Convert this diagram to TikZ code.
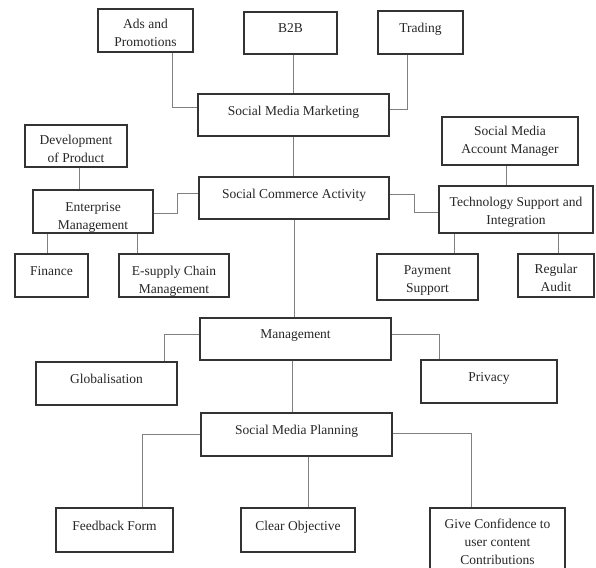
\documentclass[tikz,border=0pt]{standalone}
\usepackage{fontspec}
\setmainfont{Liberation Serif}

\begin{document}
\begin{tikzpicture}[x=1pt, y=-1pt,
  box/.style={draw=black!80, line width=1.1pt, inner sep=0pt, align=center,
    font=\fontsize{13.5}{18}\selectfont, text=black!85},
  oneline/.style={text depth=9pt},
  twoline/.style={text height=33pt},
  lowline/.style={text height=38pt},
  link/.style={draw=black!50, line width=0.9pt}]
  \useasboundingbox (0,0) rectangle (596,567);

  % 顶层：社交媒体营销
  \node[box, twoline, minimum width=95, minimum height=43] (ads) at (145.5,30.5) {Ads and\\Promotions};
  \node[box, oneline, minimum width=93, minimum height=42] (btob) at (290.5,33) {B2B};
  \node[box, oneline, minimum width=85, minimum height=43] (trade) at (420.5,32.5) {Trading};
  \node[box, oneline, minimum width=191, minimum height=42] (smm) at (293.5,115) {Social Media Marketing};

  % 中层：社交商务活动
  \node[box, twoline, minimum width=102, minimum height=42] (dev) at (76,146) {Development\\of Product};
  \node[box, lowline, minimum width=120, minimum height=43] (ent) at (93,211.5) {Enterprise\\Management};
  \node[box, oneline, minimum width=190, minimum height=42] (sca) at (294,198) {Social Commerce Activity};
  \node[box, oneline, minimum width=73, minimum height=43] (fin) at (51.5,275.5) {Finance};
  \node[box, lowline, minimum width=110, minimum height=43] (esc) at (174,275.5) {E-supply Chain\\Management};
  \node[box, minimum width=136, minimum height=48] (smam) at (510,141) {Social Media\\Account Manager};
  \node[box, twoline, minimum width=154, minimum height=47] (tech) at (516,209.5) {Technology Support and\\Integration};
  \node[box, twoline, minimum width=101, minimum height=46] (pay) at (427.5,277) {Payment\\Support};
  \node[box, twoline, minimum width=76, minimum height=43] (audit) at (556,275.5) {Regular\\Audit};

  % 管理
  \node[box, oneline, minimum width=191, minimum height=42] (mgmt) at (295.5,339) {Management};
  \node[box, oneline, minimum width=141, minimum height=43] (glob) at (106.5,383.5) {Globalisation};
  \node[box, oneline, minimum width=136, minimum height=43] (priv) at (489,381.5) {Privacy};

  % 底层：社交媒体规划
  \node[box, oneline, minimum width=191, minimum height=43] (smp) at (296.5,434.5) {Social Media Planning};
  \node[box, oneline, minimum width=117, minimum height=44] (fb) at (114.5,530) {Feedback Form};
  \node[box, oneline, minimum width=114, minimum height=44] (clear) at (298,530) {Clear Objective};
  \node[box, minimum width=135, minimum height=68] (conf) at (497.5,542) {Give Confidence to\\user content\\Contributions};

  % 连线
  \draw[link] ([xshift=26.5pt]ads.south) |- ([yshift=8pt]smm.west);
  \draw[link] (smm.north |- btob.south) -- (smm.north);
  \draw[link] ([xshift=-13.5pt]trade.south) |- ([yshift=6pt]smm.east);
  \draw[link] (smm.south) -- (smm.south |- sca.north);
  \draw[link] ([xshift=3pt]dev.south) -- ([xshift=3pt]dev.south |- ent.north);
  \draw[link] ([yshift=-1.5pt]ent.east) -- ++(24,0) |- ([yshift=5pt]sca.west);
  \draw[link] ([xshift=-4.5pt]fin.north |- ent.south) -- ([xshift=-4.5pt]fin.north);
  \draw[link] ([xshift=-37pt]esc.north |- ent.south) -- ([xshift=-37pt]esc.north);
  \draw[link] ([xshift=-4pt]smam.south) -- ([xshift=-4pt]smam.south |- tech.north);
  \draw[link] ([yshift=4pt]sca.east) -- ++(25,0) |- ([yshift=-2.5pt]tech.west);
  \draw[link] ([xshift=26.5pt]pay.north |- tech.south) -- ([xshift=26.5pt]pay.north);
  \draw[link] ([xshift=2pt]audit.north |- tech.south) -- ([xshift=2pt]audit.north);
  \draw[link] (sca.south) -- (sca.south |- mgmt.north);
  \draw[link] ([yshift=5pt]mgmt.west) -| ([xshift=57.5pt]glob.north);
  \draw[link] ([yshift=5pt]mgmt.east) -| ([xshift=-50pt]priv.north);
  \draw[link] ([xshift=-3.5pt]mgmt.south) -- ([xshift=-3.5pt]mgmt.south |- smp.north);
  \draw[link] (smp.west) -| ([xshift=27.5pt]fb.north);
  \draw[link] ([xshift=10pt]clear.north |- smp.south) -- ([xshift=10pt]clear.north);
  \draw[link] ([yshift=1.5pt]smp.east) -| ([xshift=-26.5pt]conf.north);
\end{tikzpicture}
\end{document}
